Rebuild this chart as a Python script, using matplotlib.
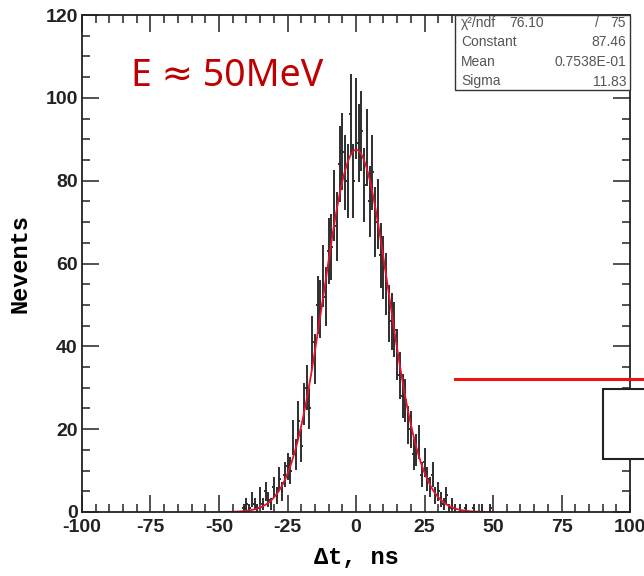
import numpy as np
import matplotlib.pyplot as plt
from matplotlib.lines import Line2D
from matplotlib.patches import Rectangle

# histogram (1 ns bins), counts
dt = np.arange(-41, 50)
counts = np.array([
    1, 2, 1, 3, 2, 1, 4, 2, 5, 3,          # -41 .. -32
    2, 6, 4, 8, 5, 9, 11, 10, 18, 14,      # -31 .. -22
    22, 16, 26, 30, 25, 41, 37, 50, 49, 57,  # -21 .. -12
    52, 63, 64, 74, 69, 84, 87, 82, 80, 96,  # -11 .. -2
    80, 95, 89, 92, 79, 88, 75, 82, 70, 72,  # -1 .. 8
    62, 59, 55, 48, 46, 44, 38, 33, 28, 27,  # 9 .. 18
    21, 20, 14, 15, 17, 9, 12, 8, 6, 9,      # 19 .. 28
    4, 5, 3, 2, 4, 1, 2, 1, 0, 1,            # 29 .. 38
    0, 1, 0, 0, 1, 0, 0, 1, 0, 0,            # 39 .. 48
    1])                                       # 49

# fit parameters from the stats box
chi2, ndf = 76.10, 75
constant, mean, sigma = 87.46, 0.7538e-01, 11.83

plt.rcParams['font.family'] = ['Liberation Sans', 'DejaVu Sans']
plt.rcParams['axes.unicode_minus'] = False

fig = plt.figure(figsize=(6.44, 5.76), dpi=100)
ax = fig.add_axes([82/644, 1 - 512/576, 548/644, 497/576])

m = counts > 0
ax.errorbar(dt[m], counts[m], yerr=np.sqrt(counts[m]), xerr=0.5, fmt='none',
            ecolor='#2e2e2e', elinewidth=1.4, capsize=0)

xf = np.linspace(-50, 50, 400)
ax.plot(xf, constant * np.exp(-0.5 * ((xf - mean) / sigma) ** 2), color='#e8102a', lw=1.3)

ax.set_xlim(-100, 100)
ax.set_ylim(0, 120)
ax.set_xticks(np.arange(-100, 101, 25))
ax.set_xticks(np.arange(-100, 101, 5), minor=True)
ax.set_yticks(np.arange(0, 121, 20))
ax.set_yticks(np.arange(0, 121, 5), minor=True)
ax.tick_params(which='both', direction='in', top=True, right=True, width=1.1, colors='#222222')
ax.tick_params(which='major', length=12, labelsize=14)
ax.tick_params(which='minor', length=6)
ax.tick_params(axis='x', which='major', pad=5)
ax.tick_params(axis='y', which='major', pad=3)
for lab in ax.get_xticklabels() + ax.get_yticklabels():
    lab.set_fontweight('bold')
for s in ax.spines.values():
    s.set_linewidth(1.3)
    s.set_color('#222222')

ax.set_xlabel('Δt, ns', family=['Liberation Mono', 'DejaVu Sans Mono'], fontweight='bold',
              fontsize=17, labelpad=7)
ax.set_ylabel('Nevents', family=['Liberation Mono', 'DejaVu Sans Mono'], fontweight='bold',
              fontsize=17, labelpad=10)

# stats box
bx0, bx1 = 455/644, 630/644
by0, by1 = 1 - 90/576, 1 - 15/576
fig.add_artist(Rectangle((bx0, by0), bx1 - bx0, by1 - by0, transform=fig.transFigure,
                         facecolor='white', edgecolor='#333333', lw=1.0, zorder=5))
rows = [('χ²/ndf', None), ('Constant', f'{constant:.2f}'),
        ('Mean', '0.7538E-01'), ('Sigma', f'{sigma:.2f}')]
for i, (name, val) in enumerate(rows):
    yy = 1 - (23 + 19.5 * i) / 576
    fig.text(461/644, yy, name, fontsize=10, color='#555555', va='center', zorder=6)
    if val is not None:
        fig.text(626/644, yy, val, fontsize=10, color='#555555', va='center', ha='right', zorder=6)
fig.text(527/644, 1 - 23/576, f'{chi2:.2f}', fontsize=10, color='#555555', va='center', ha='center', zorder=6)
fig.text(597/644, 1 - 23/576, '/', fontsize=10, color='#555555', va='center', ha='center', zorder=6)
fig.text(626/644, 1 - 23/576, f'{ndf}', fontsize=10, color='#555555', va='center', ha='right', zorder=6)

# energy label
fig.text(131/644, 1 - 76/576, 'E ≈ 50MeV', family=['Noto Sans', 'DejaVu Sans'],
         fontsize=27, color='#c00000', va='center')

# overlay line and box on the right
fig.add_artist(Line2D([455/644, 1.0], [1 - 379/576, 1 - 379/576], transform=fig.transFigure,
                      color='#ee1111', lw=2.2))
fig.add_artist(Rectangle((603/644, 1 - 459/576), 60/644, 70/576, transform=fig.transFigure,
                         facecolor='white', edgecolor='#222222', lw=1.5, zorder=5))

fig.savefig('out.png', dpi=100)
